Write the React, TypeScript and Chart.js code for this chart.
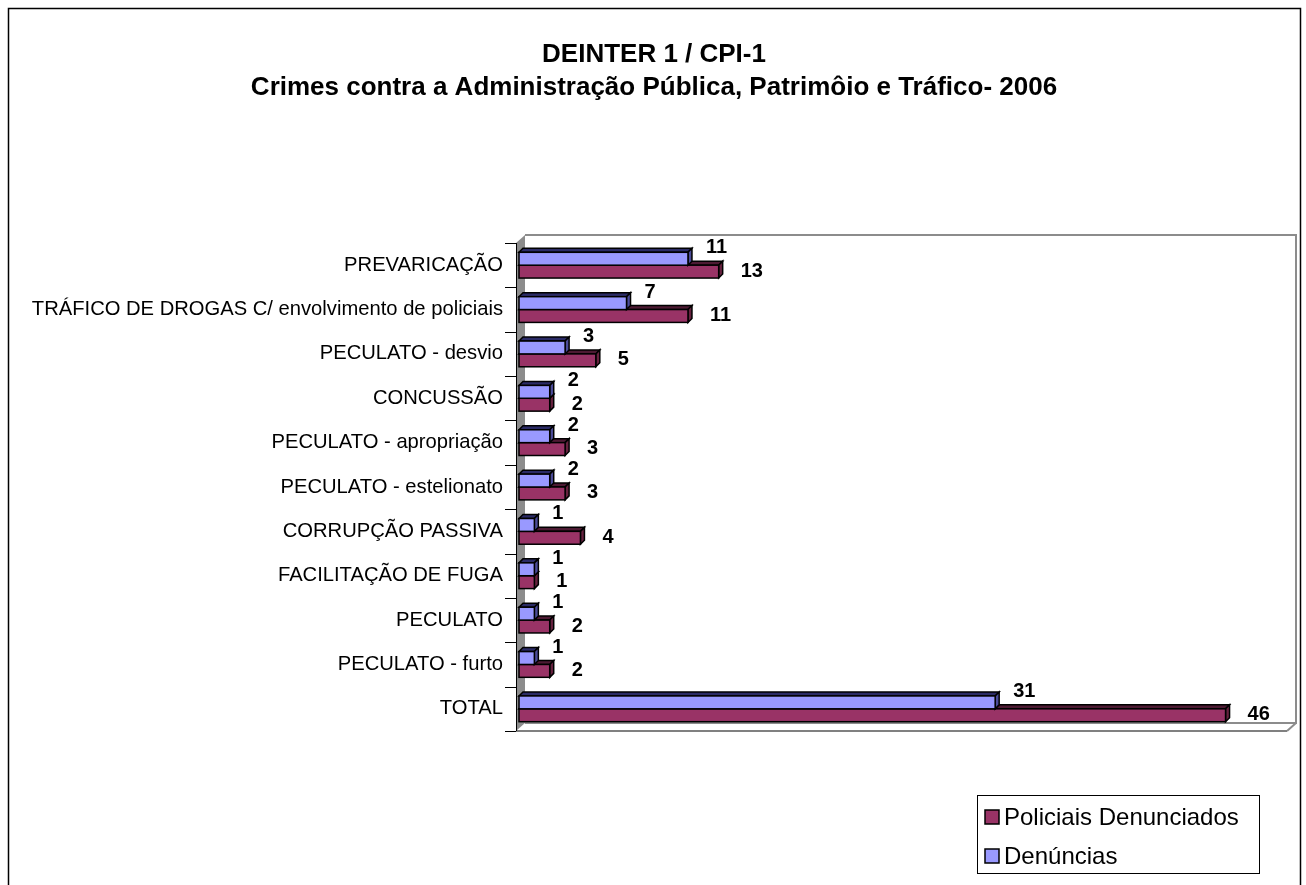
import React, { useEffect, useRef } from "react";
import { Chart, registerables } from "chart.js";

Chart.register(...registerables);

const titleLines = ["DEINTER 1 / CPI-1", "Crimes contra a Administração Pública, Patrimôio e Tráfico- 2006"];

const categories = [
  "PREVARICAÇÃO",
  "TRÁFICO DE DROGAS C/ envolvimento de policiais",
  "PECULATO - desvio",
  "CONCUSSÃO",
  "PECULATO - apropriação",
  "PECULATO - estelionato",
  "CORRUPÇÃO PASSIVA",
  "FACILITAÇÃO DE FUGA",
  "PECULATO",
  "PECULATO - furto",
  "TOTAL",
];

const denuncias = [11, 7, 3, 2, 2, 2, 1, 1, 1, 1, 31];
const policiais = [13, 11, 5, 2, 3, 3, 4, 1, 2, 2, 46];

const FONT = "'Liberation Sans', Arial, sans-serif";
const BLUE = "#9999FF";
const RED = "#993366";
const BLUE_TOP = "#2b2b66";
const BLUE_SIDE = "#4c4c99";
const RED_TOP = "#4d1a33";
const RED_SIDE = "#66223f";

const threeD = {
  id: "threeD",
  beforeDraw(chart: any) {
    const ctx = chart.ctx;
    ctx.save();
    ctx.fillStyle = "#ffffff";
    ctx.fillRect(0, 0, chart.width, chart.height);
    ctx.strokeStyle = "#000";
    ctx.lineWidth = 1.5;
    ctx.beginPath();
    ctx.moveTo(8.5, 900);
    ctx.lineTo(8.5, 8.5);
    ctx.lineTo(1300.5, 8.5);
    ctx.lineTo(1300.5, 900);
    ctx.stroke();
    ctx.fillStyle = "#000";
    ctx.font = `bold 26px ${FONT}`;
    ctx.textAlign = "center";
    ctx.textBaseline = "alphabetic";
    ctx.fillText(titleLines[0], 654, 62);
    ctx.fillText(titleLines[1], 654, 95);
    ctx.restore();
  },
  beforeDatasetsDraw(chart: any) {
    const ctx = chart.ctx;
    const ca = chart.chartArea;
    const fx = 516;
    const dx = 9;
    const dy = -8;
    const top = ca.top;
    const bottom = ca.bottom;
    const right = ca.right;
    ctx.save();
    ctx.fillStyle = "#8c8c8c";
    ctx.beginPath();
    ctx.moveTo(fx, top);
    ctx.lineTo(fx + dx, top + dy);
    ctx.lineTo(fx + dx, bottom + dy);
    ctx.lineTo(fx, bottom);
    ctx.closePath();
    ctx.fill();
    ctx.strokeStyle = "#8c8c8c";
    ctx.lineWidth = 2;
    ctx.beginPath();
    ctx.moveTo(fx + dx, top + dy);
    ctx.lineTo(right + dx, top + dy);
    ctx.lineTo(right + dx, bottom + dy);
    ctx.lineTo(fx + dx, bottom + dy);
    ctx.stroke();
    ctx.beginPath();
    ctx.moveTo(right + dx, bottom + dy);
    ctx.lineTo(right, bottom);
    ctx.stroke();
    ctx.strokeStyle = "#808080";
    ctx.lineWidth = 2;
    ctx.beginPath();
    ctx.moveTo(fx, bottom);
    ctx.lineTo(right, bottom);
    ctx.stroke();
    ctx.strokeStyle = "#000";
    ctx.lineWidth = 1;
    ctx.beginPath();
    ctx.moveTo(fx + 0.5, top);
    ctx.lineTo(fx + 0.5, bottom);
    const n = categories.length;
    for (let i = 0; i <= n; i++) {
      const y = Math.round(top + ((bottom - top) * i) / n) + 0.5;
      ctx.moveTo(505, y);
      ctx.lineTo(fx, y);
    }
    ctx.stroke();

    const d = 4;
    const drawBar = (el: any, front: string, topC: string, side: string) => {
      const x0 = el.base;
      const x1 = el.x;
      const y0 = el.y - el.height / 2;
      const y1 = el.y + el.height / 2;
      ctx.lineWidth = 1.5;
      ctx.strokeStyle = "#000";
      ctx.lineJoin = "miter";
      ctx.fillStyle = topC;
      ctx.beginPath();
      ctx.moveTo(x0, y0);
      ctx.lineTo(x0 + d, y0 - d);
      ctx.lineTo(x1 + d, y0 - d);
      ctx.lineTo(x1, y0);
      ctx.closePath();
      ctx.fill();
      ctx.stroke();
      ctx.fillStyle = side;
      ctx.beginPath();
      ctx.moveTo(x1, y0);
      ctx.lineTo(x1 + d, y0 - d);
      ctx.lineTo(x1 + d, y1 - d);
      ctx.lineTo(x1, y1);
      ctx.closePath();
      ctx.fill();
      ctx.stroke();
      ctx.fillStyle = front;
      ctx.fillRect(x0, y0, x1 - x0, y1 - y0);
      ctx.strokeRect(x0, y0, x1 - x0, y1 - y0);
    };
    const metaB = chart.getDatasetMeta(0);
    const metaR = chart.getDatasetMeta(1);
    for (let i = 0; i < n; i++) {
      drawBar(metaR.data[i], RED, RED_TOP, RED_SIDE);
      drawBar(metaB.data[i], BLUE, BLUE_TOP, BLUE_SIDE);
    }
    ctx.fillStyle = "#000";
    ctx.font = `bold 20px ${FONT}`;
    ctx.textAlign = "left";
    ctx.textBaseline = "alphabetic";
    for (let i = 0; i < n; i++) {
      const b = metaB.data[i];
      const r = metaR.data[i];
      ctx.fillText(String(denuncias[i]), b.x + 18, b.y - b.height / 2 + 1);
      ctx.fillText(String(policiais[i]), r.x + 22, r.y + 5);
    }
    ctx.restore();
    return false;
  },
  afterDraw(chart: any) {
    const ctx = chart.ctx;
    ctx.save();
    ctx.strokeStyle = "#000";
    ctx.lineWidth = 1;
    ctx.fillStyle = "#fff";
    ctx.fillRect(977.5, 795.5, 282, 78);
    ctx.strokeRect(977.5, 795.5, 282, 78);
    const items = [
      { label: chart.data.datasets[1].label, color: chart.data.datasets[1].backgroundColor, y: 817 },
      { label: chart.data.datasets[0].label, color: chart.data.datasets[0].backgroundColor, y: 856 },
    ];
    ctx.font = `24px ${FONT}`;
    ctx.textAlign = "left";
    ctx.textBaseline = "middle";
    for (const it of items) {
      ctx.fillStyle = it.color;
      ctx.fillRect(985, it.y - 7, 14, 14);
      ctx.lineWidth = 1.5;
      ctx.strokeStyle = "#000";
      ctx.strokeRect(985, it.y - 7, 14, 14);
      ctx.fillStyle = "#000";
      ctx.fillText(it.label, 1004, it.y + 1);
    }
    ctx.restore();
  },
};

export default function App() {
  const ref = useRef<HTMLCanvasElement | null>(null);
  useEffect(() => {
    if (!ref.current) return;
    const chart = new Chart(ref.current, {
      type: "bar",
      data: {
        labels: categories,
        datasets: [
          { label: "Denúncias", data: denuncias, backgroundColor: BLUE, categoryPercentage: 0.58, barPercentage: 1 },
          { label: "Policiais Denunciados", data: policiais, backgroundColor: RED, categoryPercentage: 0.58, barPercentage: 1 },
        ],
      },
      options: {
        responsive: false,
        animation: false,
        indexAxis: "y",
        layout: { padding: { top: 243, bottom: 154, right: 19, left: 0 } },
        plugins: {
          legend: { display: false },
          title: { display: false },
          tooltip: { enabled: false },
        },
        scales: {
          x: { display: false, min: 0, max: 50 },
          y: {
            grid: { display: false, drawTicks: false },
            border: { display: false },
            ticks: { font: { family: FONT, size: 20.2 }, color: "#000", padding: 16, autoSkip: false },
            afterFit: (s: any) => {
              s.width = 519;
            },
          },
        },
      } as any,
      plugins: [threeD],
    });
    return () => chart.destroy();
  }, []);
  return (
    <div style={{ position: "fixed", left: 0, top: 0, width: 1306, height: 885, overflow: "hidden", background: "#fff" }}>
      <canvas ref={ref} width={1306} height={885} style={{ display: "block" }} />
    </div>
  );
}
